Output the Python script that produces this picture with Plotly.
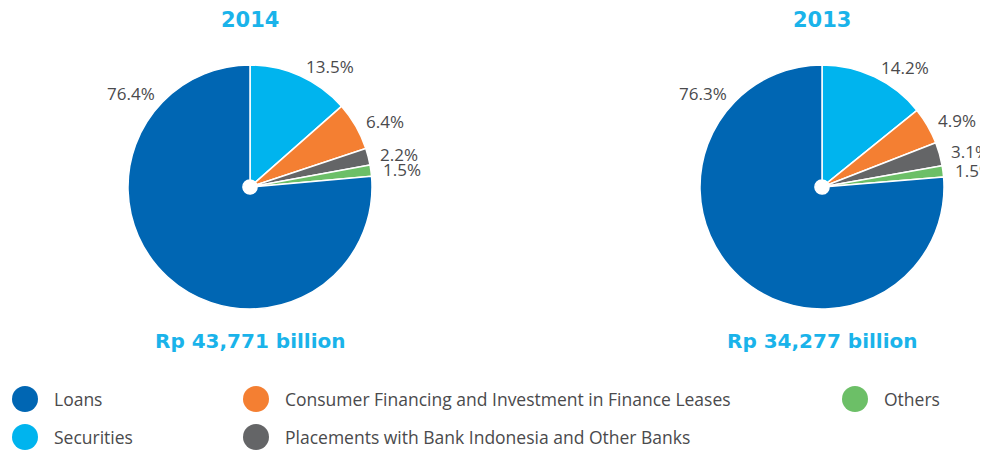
import math
import plotly.graph_objects as go

labels = ["Securities", "Consumer Financing and Investment in Finance Leases",
          "Placements with Bank Indonesia and Other Banks", "Others", "Loans"]
colors = ["#00b4ee", "#f47f32", "#646567", "#6cbf67", "#0066b3"]
share_2014 = [13.5, 6.4, 2.2, 1.5, 76.4]
share_2013 = [14.2, 4.9, 3.1, 1.5, 76.3]
years = ["2014", "2013"]
totals = ["Rp 43,771 billion", "Rp 34,277 billion"]

legend_order = ["Loans", "Securities",
                "Consumer Financing and Investment in Finance Leases",
                "Placements with Bank Indonesia and Other Banks", "Others"]

# the page body has an 8px margin, so the figure is shrunk and
# everything is positioned in window pixels through px()
OFF = 8
W, H = 988 - OFF, 450 - OFF
FONT = "'Open Sans', Roboto, Arial, sans-serif"
BOLD = "'DejaVu Sans', Arial, sans-serif"
TEXT = "#4a4a4c"
CYAN = "#1ab3ea"


def px(x, y):
    return (x - OFF) / W, 1 - (y - OFF) / H


fig = go.Figure()

centers = [250, 822]
cy, r = 187, 122
for cx, vals in zip(centers, [share_2014, share_2013]):
    x0, y0 = px(cx - r, cy + r)
    x1, y1 = px(cx + r, cy - r)
    fig.add_trace(go.Pie(
        labels=labels, values=vals, sort=False, direction="clockwise", rotation=0,
        marker=dict(colors=colors, line=dict(color="white", width=1.5)),
        textinfo="none", hole=0.058, showlegend=False,
        domain=dict(x=[x0, x1], y=[y0, y1]),
    ))

    # percentage labels just outside each slice
    total = sum(vals)
    start = 0.0
    for name, v in zip(labels, vals):
        mid = (start + v / 2) / total * 360
        start += v
        if name == "Loans":
            ang, anchor = 315, "right"   # placed in the upper-left gap
        else:
            ang, anchor = mid, "left"
        lx = cx + (r + 10) * math.sin(math.radians(ang))
        ly = cy - (r + 10) * math.cos(math.radians(ang))
        ax, ay = px(lx, ly)
        fig.add_annotation(x=ax, y=ay, xref="paper", yref="paper", text=f"{v:.1f}%",
                           xanchor=anchor, yanchor="middle", showarrow=False,
                           font=dict(family=FONT, size=17, color=TEXT))

for cx, yr, tot in zip(centers, years, totals):
    ax, ay = px(cx, 20)
    fig.add_annotation(x=ax, y=ay, xref="paper", yref="paper", text=f"<b>{yr}</b>",
                       xanchor="center", yanchor="middle", showarrow=False,
                       font=dict(family=BOLD, size=21, color=CYAN))
    ax, ay = px(cx, 341)
    fig.add_annotation(x=ax, y=ay, xref="paper", yref="paper", text=f"<b>{tot}</b>",
                       xanchor="center", yanchor="middle", showarrow=False,
                       font=dict(family=BOLD, size=20, color=CYAN))

# legend: three columns, two rows
col_x = [25, 256, 855]
row_y = [399, 437]
for i, name in enumerate(legend_order):
    mx, my = col_x[i // 2], row_y[i % 2]
    c = colors[labels.index(name)]
    sx0, sy0 = px(mx - 13, my + 13)
    sx1, sy1 = px(mx + 13, my - 13)
    fig.add_shape(type="circle", xref="paper", yref="paper",
                  x0=sx0, x1=sx1, y0=sy0, y1=sy1, fillcolor=c, line=dict(width=0))
    ax, ay = px(mx + 27, my)
    fig.add_annotation(x=ax, y=ay, xref="paper", yref="paper", text=name,
                       xanchor="left", yanchor="middle", showarrow=False,
                       font=dict(family=FONT, size=17.5, color=TEXT))

fig.update_layout(width=W, height=H, margin=dict(l=0, r=0, t=0, b=0, autoexpand=False),
                  paper_bgcolor="white", plot_bgcolor="white")
fig.write_html("out.html")
